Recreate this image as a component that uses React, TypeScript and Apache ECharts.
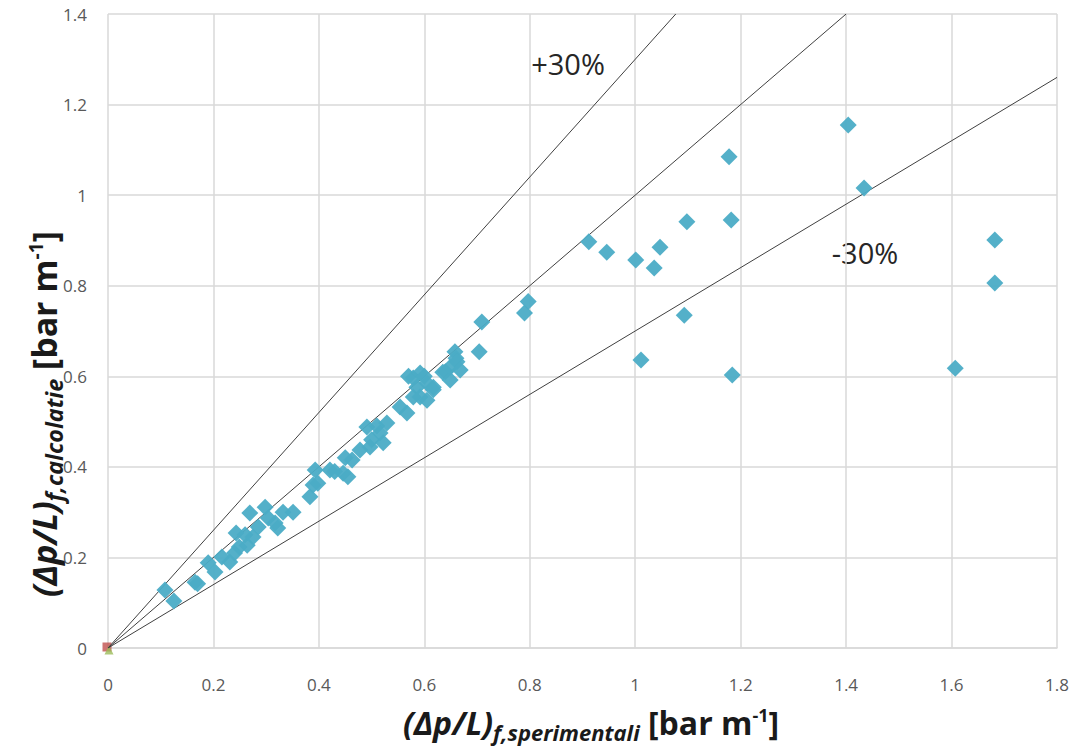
import React, { useEffect, useRef } from "react";
import * as echarts from "echarts";

const xTicks = [0, 0.2, 0.4, 0.6, 0.8, 1, 1.2, 1.4, 1.6, 1.8];
const yTicks = [0, 0.2, 0.4, 0.6, 0.8, 1, 1.2, 1.4];

const measuredX = [
  0.108, 0.125, 0.165, 0.17, 0.19, 0.203, 0.216, 0.231, 0.24, 0.243, 0.249, 0.26, 0.264, 0.269,
  0.275, 0.285, 0.298, 0.304, 0.317, 0.322, 0.332, 0.351, 0.383, 0.389, 0.393, 0.398, 0.421,
  0.43, 0.446, 0.45, 0.455, 0.463, 0.478, 0.491, 0.497, 0.5, 0.51, 0.516, 0.522, 0.529, 0.554,
  0.567, 0.57, 0.579, 0.579, 0.586, 0.592, 0.592, 0.6, 0.605, 0.605, 0.617, 0.617, 0.635, 0.64,
  0.649, 0.649, 0.658, 0.66, 0.662, 0.668, 0.704, 0.709, 0.79, 0.797, 0.912, 0.946, 1.001,
  1.036, 1.047, 1.098, 1.093, 1.011, 1.178, 1.182, 1.184, 1.404, 1.434, 1.607, 1.682, 1.682,
];
const measuredY = [
  0.128, 0.104, 0.145, 0.142, 0.188, 0.168, 0.201, 0.19, 0.21, 0.254, 0.223, 0.25, 0.227, 0.298,
  0.245, 0.267, 0.311, 0.287, 0.276, 0.265, 0.3, 0.3, 0.334, 0.36, 0.393, 0.364, 0.393, 0.39,
  0.386, 0.42, 0.378, 0.415, 0.437, 0.488, 0.444, 0.46, 0.49, 0.475, 0.453, 0.497, 0.532, 0.519,
  0.6, 0.554, 0.596, 0.576, 0.607, 0.554, 0.6, 0.547, 0.585, 0.576, 0.57, 0.609, 0.61, 0.592,
  0.62, 0.654, 0.64, 0.632, 0.614, 0.654, 0.72, 0.74, 0.765, 0.897, 0.874, 0.857, 0.839, 0.885,
  0.941, 0.735, 0.636, 1.085, 0.945, 0.603, 1.155, 1.016, 0.618, 0.901, 0.806,
];

const refSlopes = [1.3, 1, 0.7];
const refLabels = ["+30%", "-30%"];

const X_MAX = 1.8;
const Y_MAX = 1.4;

export default function App() {
  const ref = useRef<HTMLDivElement>(null);
  useEffect(() => {
    if (!ref.current) return;
    const chart = echarts.init(ref.current, null, { renderer: "svg" });
    const pts = measuredX.map((x, i) => [x, measuredY[i]]);
    const lineSeries = refSlopes.map((s) => {
      const xEnd = Math.min(X_MAX, Y_MAX / s);
      return {
        type: "line",
        data: [
          [0, 0],
          [xEnd, xEnd * s],
        ],
        symbol: "none",
        lineStyle: { color: "#404040", width: 1 },
        silent: true,
        z: 3,
      };
    });
    const font = "'Open Sans', 'Liberation Sans', sans-serif";
    const mkRich = (k: number) => ({
      a: { fontSize: 32 * k, fontWeight: "bold", fontStyle: "italic", fontFamily: font, fill: "#1a1a1a" },
      b: {
        fontSize: 22 * k,
        fontWeight: "bold",
        fontStyle: "italic",
        fontFamily: font,
        fill: "#1a1a1a",
        padding: [19 * k, 0, 0, 0],
      },
      c: { fontSize: 32 * k, fontWeight: "bold", fontFamily: font, fill: "#1a1a1a" },
      d: { fontSize: 18 * k, fontWeight: "bold", fontFamily: font, fill: "#1a1a1a", padding: [0, 0, 15 * k, 0] },
    });
    chart.setOption({
      animation: false,
      grid: { left: 108, right: 23, top: 14, bottom: 105 },
      xAxis: {
        type: "value",
        min: 0,
        max: X_MAX,
        interval: 0.2,
        axisLine: { show: true, lineStyle: { color: "#d9d9d9", width: 1.5 } },
        axisTick: { show: false },
        splitLine: { show: true, lineStyle: { color: "#d9d9d9", width: 1.5 } },
        axisLabel: { color: "#595959", fontSize: 17, fontFamily: font, margin: 28 },
      },
      yAxis: {
        type: "value",
        min: 0,
        max: Y_MAX,
        interval: 0.2,
        axisLine: { show: false },
        axisTick: { show: false },
        splitLine: { show: true, lineStyle: { color: "#d9d9d9", width: 1.5 } },
        axisLabel: { color: "#595959", fontSize: 17, fontFamily: font, margin: 21 },
      },
      series: [
        ...lineSeries,
        {
          type: "scatter",
          data: pts,
          symbol: "diamond",
          symbolSize: 17,
          itemStyle: { color: "#4bacc6", opacity: 0.95 },
          z: 4,
        },
        {
          type: "scatter",
          data: [[0, 0]],
          symbol: "rect",
          symbolSize: 9,
          symbolOffset: [-1, -1],
          itemStyle: { color: "#c0504d" },
          z: 2,
        },
        {
          type: "scatter",
          data: [[0, 0]],
          symbol: "triangle",
          symbolSize: 9,
          symbolOffset: [1, 2],
          itemStyle: { color: "#9bbb59" },
          z: 2,
        },
      ],
      graphic: [
        {
          type: "text",
          x: 568,
          y: 63,
          style: { text: refLabels[0], font: `29px ${font}`, fill: "#262626", align: "center", verticalAlign: "middle" },
        },
        {
          type: "text",
          x: 865,
          y: 252,
          style: { text: refLabels[1], font: `29px ${font}`, fill: "#262626", align: "center", verticalAlign: "middle" },
        },
        {
          type: "text",
          x: 591,
          y: 722,
          style: {
            text: "{a|(Δp/L)}{b|f,sperimentali}{c| [bar m}{d|-1}{c|]}",
            rich: mkRich(1),
            align: "center",
            verticalAlign: "middle",
          },
        },
        {
          type: "text",
          x: 44,
          y: 414,
          rotation: Math.PI / 2,
          style: {
            text: "{a|(Δp/L)}{b|f,calcolatie}{c| [bar m}{d|-1}{c|]}",
            rich: mkRich(1.06),
            align: "center",
            verticalAlign: "middle",
          },
        },
      ],
    });
    return () => chart.dispose();
  }, []);
  return <div ref={ref} style={{ width: 1080, height: 753, position: "absolute", left: 0, top: 0 }} />;
}
